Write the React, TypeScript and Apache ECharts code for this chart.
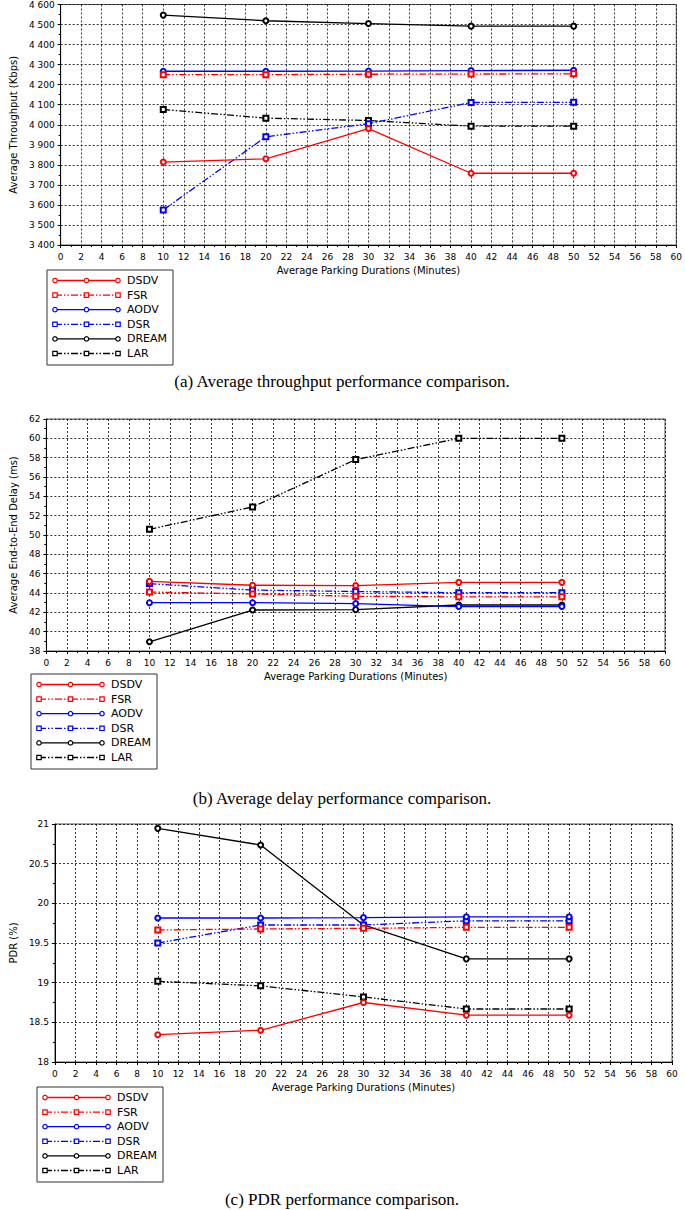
import React, { useEffect, useRef } from "react";
import * as echarts from "echarts";

// ---------- data ----------
const minutes = [10, 20, 30, 40, 50];
const protocolNames = ["DSDV", "FSR", "AODV", "DSR", "DREAM", "LAR"];

// (a) Average throughput (Kbps)
const thrDSDV = [3814, 3830, 3981, 3758, 3758];
const thrFSR = [4250, 4250, 4252, 4253, 4254];
const thrAODV = [4267, 4267, 4268, 4270, 4272];
const thrDSR = [3575, 3940, 4005, 4111, 4112];
const thrDREAM = [4547, 4519, 4505, 4492, 4492];
const thrLAR = [4076, 4033, 4021, 3993, 3993];

// (b) Average end-to-end delay (ms)
const delDSDV = [45.2, 44.8, 44.77, 45.1, 45.1];
const delFSR = [44.1, 43.9, 43.66, 43.6, 43.6];
const delAODV = [43.0, 43.0, 42.9, 42.6, 42.6];
const delDSR = [44.97, 44.3, 44.15, 44.03, 44.03];
const delDREAM = [38.95, 42.24, 42.28, 42.76, 42.76];
const delLAR = [50.59, 52.9, 57.8, 60.0, 60.0];

// (c) PDR (%)
const pdrDSDV = [18.344, 18.4, 18.75, 18.59, 18.59];
const pdrFSR = [19.664, 19.677, 19.685, 19.697, 19.697];
const pdrAODV = [19.815, 19.815, 19.82, 19.83, 19.83];
const pdrDSR = [19.5, 19.727, 19.727, 19.78, 19.78];
const pdrDREAM = [20.945, 20.735, 19.727, 19.3, 19.3];
const pdrLAR = [19.017, 18.96, 18.82, 18.668, 18.668];

const xTicksMin = 0;
const xTicksMax = 60;
const xTickStep = 2;

// ---------- styles ----------
const FONT = "DejaVu Sans";
const SERIF = "Liberation Serif";
const colors = ["#ff0000", "#ff0000", "#0000ff", "#0000ff", "#000000", "#000000"];
const dashed = [false, true, false, true, false, true];
const DASH = [7, 2, 1.5, 2, 1.5, 2];

function mkSeries(vals: number[][], idx: number) {
  return vals.map((v, i) => ({
    name: protocolNames[i],
    type: "line",
    xAxisIndex: idx,
    yAxisIndex: idx,
    data: minutes.map((m, k) => [m, v[k]]),
    symbol: dashed[i] ? "emptyRect" : "emptyCircle",
    symbolSize: 5,
    color: colors[i],
    itemStyle: { color: colors[i], borderColor: colors[i], borderWidth: 1.2 },
    lineStyle: { color: colors[i], width: 1.3, type: dashed[i] ? DASH : "solid" },
    z: 10 - i,
  }));
}

function xAxisCfg(gridIndex: number, nameGap: number) {
  return {
    type: "value",
    gridIndex,
    min: xTicksMin,
    max: xTicksMax,
    interval: xTickStep,
    name: "Average Parking Durations (Minutes)",
    nameLocation: "middle",
    nameGap,
    nameTextStyle: { fontSize: 10, fontFamily: FONT, color: "#000" },
    axisLine: { onZero: false, lineStyle: { color: "#000", width: 1 } },
    axisTick: { show: true, length: 3, lineStyle: { color: "#000" } },
    minorTick: { show: true, splitNumber: 2, length: 2, lineStyle: { color: "#000" } },
    axisLabel: { fontSize: 9, fontFamily: FONT, color: "#000", margin: 7 },
    splitLine: { show: true, lineStyle: { color: "#000", type: [2, 2], width: 0.8 } },
  };
}

function yAxisCfg(
  gridIndex: number,
  name: string,
  min: number,
  max: number,
  interval: number,
  nameGap: number,
  formatter?: (v: number) => string
) {
  return {
    type: "value",
    gridIndex,
    min,
    max,
    interval,
    name,
    nameLocation: "middle",
    nameGap,
    nameTextStyle: { fontSize: 10, fontFamily: FONT, color: "#000" },
    axisLine: { show: true, onZero: false, lineStyle: { color: "#000", width: 1 } },
    axisTick: { show: true, length: 3, lineStyle: { color: "#000" } },
    minorTick: { show: true, splitNumber: 2, length: 2, lineStyle: { color: "#000" } },
    axisLabel: {
      fontSize: 9,
      fontFamily: FONT,
      color: "#000",
      margin: 6,
      formatter: formatter || ((v: number) => String(v)),
    },
    splitLine: { show: true, lineStyle: { color: "#000", type: [2, 2], width: 0.8 } },
  };
}

function legendGraphic(left: number, top: number) {
  const els: any[] = [
    {
      type: "rect",
      shape: { x: left, y: top, width: 126, height: 95 },
      style: { fill: "#fff", stroke: "#333", lineWidth: 1 },
    },
  ];
  protocolNames.forEach((n, i) => {
    const y = top + 10.5 + i * 14.6;
    const x1 = left + 8;
    const x2 = left + 71;
    const xm = (x1 + x2) / 2;
    const lineStyle: any = { stroke: colors[i], lineWidth: 1.3 };
    if (dashed[i]) lineStyle.lineDash = DASH;
    els.push({ type: "line", shape: { x1, y1: y, x2, y2: y }, style: lineStyle });
    [x1, xm, x2].forEach((cx) => {
      if (dashed[i]) {
        els.push({
          type: "rect",
          shape: { x: cx - 2.2, y: y - 2.2, width: 4.4, height: 4.4 },
          style: { fill: "#fff", stroke: colors[i], lineWidth: 1.2 },
        });
      } else {
        els.push({
          type: "circle",
          shape: { cx, cy: y, r: 2.2 },
          style: { fill: "#fff", stroke: colors[i], lineWidth: 1.2 },
        });
      }
    });
    els.push({
      type: "text",
      x: left + 80,
      y,
      style: {
        text: n,
        fill: "#000",
        fontSize: 11,
        fontFamily: FONT,
        verticalAlign: "middle",
        align: "left",
      },
    });
  });
  return els;
}

function caption(text: string, y: number) {
  return {
    type: "text",
    x: 342,
    y,
    style: {
      text,
      fill: "#000",
      fontSize: 17,
      fontFamily: SERIF,
      align: "center",
      verticalAlign: "middle",
    },
  };
}

const thousands = (v: number) => String(v).replace(/\B(?=(\d{3})+(?!\d))/g, " ");

export default function App() {
  const ref = useRef<HTMLDivElement>(null);
  useEffect(() => {
    document.body.style.margin = "0";
    if (!ref.current) return;
    const chart = echarts.init(ref.current, undefined, { renderer: "svg" });
    const option: any = {
      animation: false,
      backgroundColor: "#fff",
      grid: [
        { left: 48, top: 3, width: 632, height: 242, show: true, borderColor: "#555", borderWidth: 1 },
        { left: 31, top: 419, width: 634, height: 232, show: true, borderColor: "#555", borderWidth: 1 },
        { left: 37, top: 824, width: 635, height: 238, show: true, borderColor: "#555", borderWidth: 1 },
      ],
      xAxis: [xAxisCfg(0, 20), xAxisCfg(1, 20), xAxisCfg(2, 20)],
      yAxis: [
        yAxisCfg(0, "Average Throughput (Kbps)", 3400, 4600, 100, 33, thousands),
        yAxisCfg(1, "Average End-to-End Delay (ms)", 38, 62, 2, 20),
        yAxisCfg(2, "PDR (%)", 18, 21, 0.5, 26),
      ],
      series: [
        ...mkSeries([thrDSDV, thrFSR, thrAODV, thrDSR, thrDREAM, thrLAR], 0),
        ...mkSeries([delDSDV, delFSR, delAODV, delDSR, delDREAM, delLAR], 1),
        ...mkSeries([pdrDSDV, pdrFSR, pdrAODV, pdrDSR, pdrDREAM, pdrLAR], 2),
      ],
      graphic: [
        ...legendGraphic(47, 270),
        ...legendGraphic(31, 674),
        ...legendGraphic(37, 1087),
        caption("(a) Average throughput performance comparison.", 381),
        caption("(b) Average delay performance comparison.", 798),
        caption("(c) PDR performance comparison.", 1199),
      ],
    };
    chart.setOption(option);
    return () => chart.dispose();
  }, []);
  return <div ref={ref} style={{ width: 685, height: 1210 }} />;
}
